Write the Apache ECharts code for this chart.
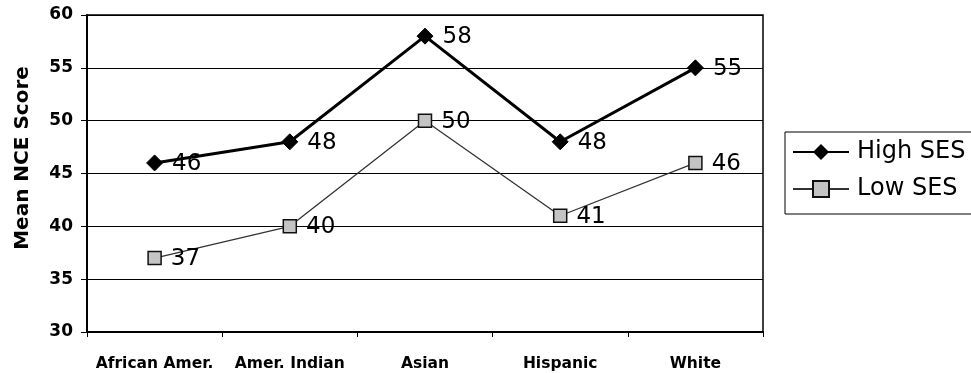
<!DOCTYPE html>
<html>
<head>
<meta charset="utf-8">
<script src="https://cdn.jsdelivr.net/npm/echarts@6/dist/echarts.min.js"></script>
<style>
  html, body { margin: 0; padding: 0; background: #fff; }
  #chart { width: 971px; height: 373px; }
</style>
</head>
<body>
<div id="chart"></div>
<script>
// Mean NCE score by group and socioeconomic status
const categories = ['African Amer.', 'Amer. Indian', 'Asian', 'Hispanic', 'White'];
const highSES = [46, 48, 58, 48, 55];
const lowSES = [37, 40, 50, 41, 46];
const yTicks = { min: 30, max: 60, interval: 5 };

const font = 'DejaVu Sans, Verdana, sans-serif';

const chart = echarts.init(document.getElementById('chart'));
chart.setOption({
  animation: false,
  backgroundColor: '#fff',
  grid: { left: 87, right: 208, top: 15, bottom: 41, show: true, borderColor: '#000', borderWidth: 1.5, backgroundColor: 'transparent' },
  graphic: [{
    type: 'text',
    x: 23, y: 158,
    rotation: Math.PI / 2,
    style: {
      text: 'Mean NCE Score',
      fontFamily: font, fontSize: 20, fontWeight: 'bold', fill: '#000',
      align: 'center', verticalAlign: 'middle'
    }
  }],
  legend: {
    left: 785, top: 132,
    orient: 'vertical',
    padding: [6, 60, 11, 7],
    itemGap: 9,
    itemWidth: 56,
    itemHeight: 20,
    borderColor: '#000',
    borderWidth: 1,
    textStyle: { fontFamily: font, fontSize: 24, lineHeight: 28, color: '#000', padding: [0, 0, 0, 3] },
    data: ['High SES', 'Low SES']
  },
  xAxis: {
    type: 'category',
    data: categories,
    boundaryGap: true,
    axisLine: { lineStyle: { color: '#000', width: 2 } },
    axisTick: { show: true, length: 5, lineStyle: { color: '#000' } },
    axisLabel: { interval: 0, fontFamily: font, fontSize: 15.5, fontWeight: 'bold', color: '#000', margin: 24 }
  },
  yAxis: {
    type: 'value',
    min: yTicks.min, max: yTicks.max, interval: yTicks.interval,
    axisLine: { show: true, lineStyle: { color: '#000', width: 2 } },
    axisTick: { show: true, length: 6, lineStyle: { color: '#000' } },
    axisLabel: { fontFamily: font, fontSize: 17, fontWeight: 'bold', color: '#000', margin: 14 },
    splitLine: { lineStyle: { color: '#000', width: 1 } }
  },
  series: [
    {
      name: 'High SES',
      type: 'line',
      data: highSES,
      symbol: 'diamond',
      symbolSize: 16,
      lineStyle: { color: '#000', width: 3 },
      itemStyle: { color: '#000', borderColor: '#000' },
      label: { show: true, position: 'right', distance: 9, offset: [0, 1], fontFamily: font, fontSize: 23, color: '#000' },
      z: 3
    },
    {
      name: 'Low SES',
      type: 'line',
      data: lowSES,
      symbol: 'rect',
      symbolSize: 13,
      lineStyle: { color: '#333', width: 1.3 },
      itemStyle: { color: '#c4c4c4', borderColor: '#111', borderWidth: 1.5 },
      label: { show: true, position: 'right', distance: 9, offset: [0, 1], fontFamily: font, fontSize: 23, color: '#000' },
      z: 2
    }
  ]
});
</script>
</body>
</html>
